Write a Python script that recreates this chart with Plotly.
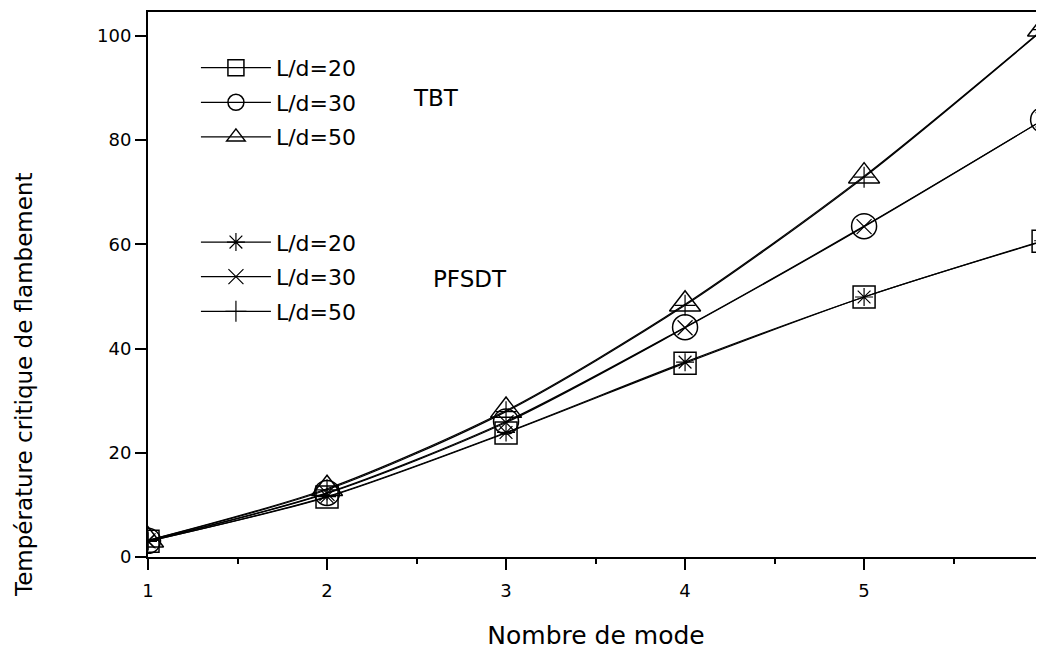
import plotly.graph_objects as go

# ---- data ----
modes = [1, 2, 3, 4, 5, 6]
tbt_20 = [3.0, 11.5, 23.8, 37.2, 49.9, 60.6]
tbt_30 = [3.1, 12.3, 26.0, 44.1, 63.5, 83.9]
tbt_50 = [3.2, 13.1, 28.1, 48.5, 73.1, 101.3]
pfsdt_20 = [3.0, 11.6, 23.9, 37.4, 49.9, 60.7]
pfsdt_30 = [3.1, 12.2, 25.8, 44.0, 63.4, 83.9]
pfsdt_50 = [3.2, 12.9, 27.9, 48.3, 72.9, 101.2]
labels = ["L/d=20", "L/d=30", "L/d=50"]
x_ticks = [1, 2, 3, 4, 5, 6]
y_ticks = [0, 20, 40, 60, 80, 100]

FONT = "DejaVu Sans"
fig = go.Figure()

tbt_series = [tbt_20, tbt_30, tbt_50]
tbt_symbols = ["square-open", "circle-open", "triangle-up-open"]
tbt_sizes = [22, 25, 27]
for i, (ys, sym, sz) in enumerate(zip(tbt_series, tbt_symbols, tbt_sizes)):
    fig.add_trace(go.Scatter(
        x=modes, y=ys, name=labels[i], legend="legend", legendgroup=f"t{i}",
        mode="lines+markers",
        line=dict(color="black", width=1.2, shape="spline", smoothing=0.8),
        marker=dict(symbol=sym, size=sz, color="black",
                    line=dict(color="black", width=1.5)),
    ))

pf_series = [pfsdt_20, pfsdt_30, pfsdt_50]
pf_symbols = ["asterisk-open", "x-thin-open", "cross-thin-open"]
for i, (ys, sym) in enumerate(zip(pf_series, pf_symbols)):
    fig.add_trace(go.Scatter(
        x=modes, y=ys, name=labels[i], legend="legend2", legendgroup=f"p{i}",
        mode="lines+markers",
        line=dict(color="black", width=1.2, shape="spline", smoothing=0.8),
        marker=dict(symbol=sym, size=15, color="black",
                    line=dict(color="black", width=1.2)),
    ))

fig.add_annotation(x=2.607, y=88.0, text="TBT", showarrow=False,
                   font=dict(family=FONT, size=23, color="black"))
fig.add_annotation(x=2.797, y=53.3, text="PFSDT", showarrow=False,
                   font=dict(family=FONT, size=23, color="black"))
# y axis title (placed lower than the axis centre, as in the reference)
fig.add_annotation(x=-0.1384, y=0.3174, xref="paper", yref="paper",
                   text="Température critique de flambement", textangle=-90,
                   showarrow=False, xanchor="center", yanchor="middle",
                   font=dict(family=FONT, size=23, color="black"))

# the page body adds an 8px offset; the figure is sized to compensate
fig.update_layout(
    width=1036, height=642,
    margin=dict(l=140, r=0, t=4, b=93, autoexpand=False),
    paper_bgcolor="white", plot_bgcolor="white",
    font=dict(family=FONT, color="black"),
    legend=dict(x=0.0535, y=0.936, xanchor="left", yanchor="top",
                font=dict(family=FONT, size=22, color="black"),
                itemwidth=70, tracegroupgap=3, bgcolor="rgba(0,0,0,0)"),
    legend2=dict(x=0.0535, y=0.616, xanchor="left", yanchor="top",
                 font=dict(family=FONT, size=22, color="black"),
                 itemwidth=70, tracegroupgap=3, bgcolor="rgba(0,0,0,0)"),
    xaxis=dict(
        range=[1, 6.005], tickvals=x_ticks, ticktext=[str(v) for v in x_ticks],
        ticks="outside", ticklen=11, tickwidth=2, tickcolor="black",
        minor=dict(ticks="outside", dtick=0.5, ticklen=5, tickwidth=1.5, tickcolor="black"),
        showline=True, linewidth=2, linecolor="black", mirror=True,
        showgrid=False, zeroline=False,
        tickfont=dict(family=FONT, size=18, color="black"),
        ticklabelstandoff=5, ticklabeloverflow="allow",
        title=dict(text="Nombre de mode", font=dict(family=FONT, size=25, color="black"),
                   standoff=27),
    ),
    yaxis=dict(
        range=[0, 104.6], tickvals=y_ticks, ticktext=[str(v) for v in y_ticks],
        ticks="outside", ticklen=11, tickwidth=2, tickcolor="black",
        showline=True, linewidth=2, linecolor="black",
        showgrid=False, zeroline=False,
        tickfont=dict(family=FONT, size=18, color="black"),
    ),
)

fig.write_html("out.html")
